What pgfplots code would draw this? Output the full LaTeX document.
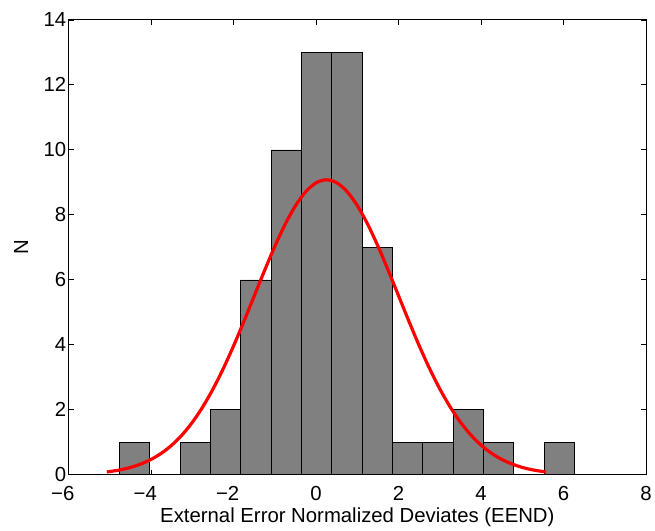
\documentclass[border=0pt]{standalone}
\usepackage{pgfplots}
\pgfplotsset{compat=1.18}
\usepackage{fontspec}
\setmainfont{Liberation Sans}
\begin{document}
\begin{tikzpicture}
\begin{axis}[
  scale only axis,
  width=580bp, height=457bp,
  xmin=-6, xmax=8, ymin=0, ymax=14,
  xtick={-6,-4,-2,0,2,4,6,8},
  xticklabels={\llap{−}6,\llap{−}4,\llap{−}2,0,2,4,6,8},
  ytick={0,2,4,6,8,10,12,14},
  /pgf/number format/assume math mode=true,
  tick align=inside,
  major tick length=5bp,
  tick style={black, line width=0.8bp},
  axis line style={line width=0.9bp},
  ticklabel style={font=\fontsize{20.5}{24}\selectfont},
  xticklabel style={anchor=base, yshift=-26bp},
  yticklabel style={xshift=1bp},
  xlabel={External Error Normalized Deviates (EEND)},
  ylabel={N},
  xlabel style={font=\fontsize{20.5}{24}\selectfont, at={(axis description cs:0.5,0)}, anchor=base, yshift=-48bp},
  ylabel style={font=\fontsize{20.5}{24}\selectfont, at={(axis description cs:-0.0702,0.5)}, anchor=base},
  clip=false,
]
\addplot[ybar, bar width=0.736, bar shift=0pt, fill={rgb,255:red,128;green,128;blue,128}, draw=black, line width=0.7bp]
coordinates {
(-4.40,1) (-3.665,0) (-2.93,1) (-2.195,2) (-1.46,6) (-0.725,10) (0.01,13) (0.745,13)
(1.48,7) (2.215,1) (2.95,1) (3.69,2) (4.42,1) (5.16,0) (5.895,1)
};
\addplot[red, line width=3.2bp, smooth]
coordinates {
(-5.075,0.089) (-5.0,0.101) (-4.75,0.153) (-4.5,0.228) (-4.25,0.333) (-4.0,0.476)
(-3.75,0.666) (-3.5,0.914) (-3.25,1.229) (-3.0,1.619) (-2.75,2.089) (-2.5,2.642)
(-2.25,3.273) (-2.0,3.973) (-1.75,4.726) (-1.5,5.507) (-1.25,6.288) (-1.0,7.035)
(-0.75,7.712) (-0.5,8.283) (-0.25,8.717) (0,8.988) (0.25,9.08) (0.5,8.988)
(0.75,8.717) (1.0,8.283) (1.25,7.712) (1.5,7.035) (1.75,6.288) (2.0,5.507)
(2.25,4.726) (2.5,3.973) (2.75,3.273) (3.0,2.642) (3.25,2.089) (3.5,1.619)
(3.75,1.229) (4.0,0.914) (4.25,0.666) (4.5,0.476) (4.75,0.333) (5.0,0.228)
(5.25,0.153) (5.5,0.101) (5.575,0.089)
};
\path[use as bounding box] ([xshift=-69bp,yshift=-52bp]rel axis cs:0,0) rectangle ([xshift=6bp,yshift=20bp]rel axis cs:1,1);
\end{axis}
\end{tikzpicture}
\end{document}
